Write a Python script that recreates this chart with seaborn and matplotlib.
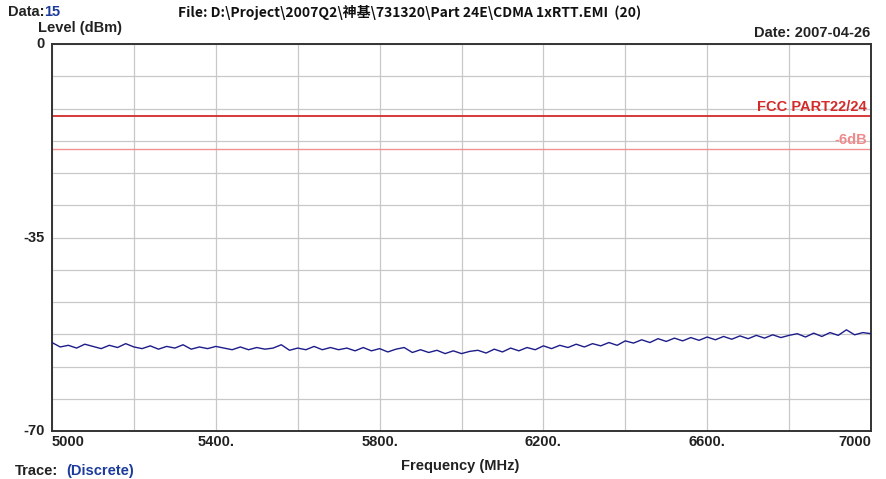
import numpy as np
import pandas as pd
import matplotlib
matplotlib.use("Agg")
import matplotlib.pyplot as plt
import seaborn as sns

# ---- data ----
freq_start = 5000
freq_step = 20
level_dbm = [
    -54.0, -54.8, -54.5, -55.0, -54.3, -54.7, -55.1, -54.5, -54.9, -54.2,
    -54.8, -55.1, -54.6, -55.2, -54.7, -55.0, -54.4, -55.2, -54.8, -55.1,
    -54.7, -55.0, -55.3, -54.8, -55.3, -54.9, -55.2, -55.0, -54.4, -55.4,
    -55.0, -55.3, -54.7, -55.3, -54.9, -55.3, -55.0, -55.5, -54.9, -55.5,
    -55.1, -55.7, -55.2, -54.9, -55.8, -55.3, -55.8, -55.4, -56.0, -55.5,
    -56.0, -55.6, -55.4, -55.9, -55.2, -55.7, -55.0, -55.5, -54.9, -55.3,
    -54.6, -55.1, -54.5, -54.9, -54.3, -54.8, -54.2, -54.6, -54.0, -54.5,
    -53.7, -54.1, -53.5, -54.0, -53.3, -53.8, -53.2, -53.7, -53.1, -53.6,
    -53.0, -53.5, -52.9, -53.4, -52.8, -53.3, -52.7, -53.2, -52.6, -53.1,
    -52.7, -52.4, -53.0, -52.3, -52.9, -52.2, -52.7, -51.7, -52.6, -52.2,
    -52.4,
]
freqs = [freq_start + freq_step * i for i in range(len(level_dbm))]
limit_dbm = -13
margin_dbm = -19
x_ticks = [5000, 5400, 5800, 6200, 6600, 7000]
x_ticklabels = ["5000", "5400.", "5800.", "6200.", "6600.", "7000"]
y_ticks = [0, -35, -70]
y_ticklabels = ["0", "-35", "-70"]

df = pd.DataFrame({"Frequency (MHz)": freqs, "Level (dBm)": level_dbm})

sns.set_style("white")
plt.rcParams["font.family"] = ["Liberation Sans", "Noto Sans CJK SC", "DejaVu Sans"]

fig = plt.figure(figsize=(8.86, 4.79), dpi=100)
ax = fig.add_axes([52 / 886, 1 - 431 / 479, 819 / 886, 387 / 479])

# grid
for gx in range(5000, 7001, 200):
    ax.axvline(gx, color="#c8c8c8", lw=0.9, zorder=0)
for k in range(13):
    ax.axhline(-70 * k / 12, color="#c8c8c8", lw=0.9, zorder=0)

ax.axhline(limit_dbm, color="#d42a2a", lw=1.3, zorder=2)
ax.axhline(margin_dbm, color="#f09090", lw=1.0, zorder=2)

sns.lineplot(data=df, x="Frequency (MHz)", y="Level (dBm)", ax=ax,
             color="#1c1c8a", lw=1.0, zorder=3)

ax.set_xlim(5000, 7000)
ax.set_ylim(-70, 0)
ax.set_xticks(x_ticks)
ax.set_xticklabels(x_ticklabels, fontsize=10.5, fontweight="bold", color="#222222")
for lab, ha in zip(ax.get_xticklabels(), ["left", "center", "center", "center", "center", "right"]):
    lab.set_ha(ha)
ax.set_yticks(y_ticks)
ax.set_yticklabels(y_ticklabels, fontsize=10.5, fontweight="bold", color="#222222")
ax.tick_params(axis="both", length=0, pad=3)
ax.tick_params(axis="y", pad=5)
for lab in ax.get_yticklabels():
    lab.set_va("center")
ax.set_xlabel("")
ax.set_ylabel("")
for s in ax.spines.values():
    s.set_color("#333333")
    s.set_linewidth(1.4)

ax.text(6990, limit_dbm + 0.4, "FCC PART22/24", color="#d42a2a", fontsize=10.5,
        fontweight="bold", ha="right", va="bottom", zorder=4)
ax.text(6990, margin_dbm + 0.4, "-6dB", color="#f08a8a", fontsize=10.5,
        fontweight="bold", ha="right", va="bottom", zorder=4)

# header / footer texts
fig.text(8 / 886, 1 - 12 / 479, "Data:", fontsize=10.5, fontweight="bold", color="#222222", va="center")
fig.text(44 / 886, 1 - 12 / 479, "15", fontsize=10.5, fontweight="bold", color="#1c3c9c", va="center")
fig.text(38 / 886, 1 - 28 / 479, "Level (dBm)", fontsize=10.5, fontweight="bold", color="#222222", va="center")
fig.text(178 / 886, 1 - 12 / 479,
         "File: D:\\Project\\2007Q2\\神基\\731320\\Part 24E\\CDMA 1xRTT.EMI  (20)",
         fontsize=10, fontweight="bold", color="#111111", va="center",
         family=["Liberation Sans Narrow", "Noto Sans CJK SC", "DejaVu Sans"])
fig.text(870 / 886, 1 - 33 / 479, "Date: 2007-04-26", fontsize=10.5, fontweight="bold",
         color="#222222", va="center", ha="right")
fig.text(460 / 886, 1 - 466 / 479, "Frequency (MHz)", fontsize=10.5, fontweight="bold",
         color="#222222", va="center", ha="center")
fig.text(15 / 886, 1 - 471 / 479, "Trace:", fontsize=10.5, fontweight="bold", color="#222222", va="center")
fig.text(66 / 886, 1 - 471 / 479, "(Discrete)", fontsize=10.5, fontweight="bold", color="#1c3c9c", va="center")

fig.savefig("out.png", dpi=100)
